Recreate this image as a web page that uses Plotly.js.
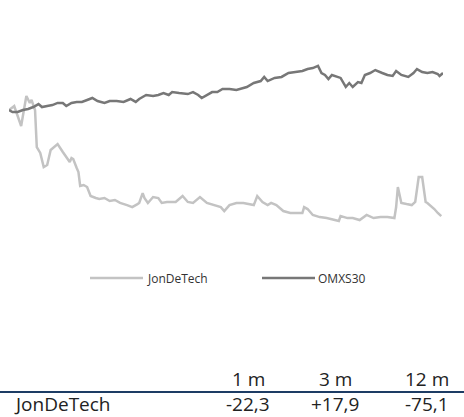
<!DOCTYPE html>
<html>
<head>
<meta charset="utf-8">
<script src="https://cdn.plot.ly/plotly-3.0.1.min.js"></script>
<style>
html,body{margin:0;padding:0;background:#fff;}
#chart{width:464px;height:417px;}
</style>
</head>
<body>
<div id="chart"></div>
<script>
// ---- data (indexed to 100 at start, x = trading day) ----
var seriesNames = ['JonDeTech', 'OMXS30'];

var jonDay = [0,3,7,10,12,13,14,15,16,18,20,22,24,28,31,33,35,36,37,39,40,41,43,45,47,50,52,55,58,61,64,68,71,74,75,77,78,80,83,86,88,91,96,100,103,106,110,114,118,122,124,127,131,135,141,143,146,149,151,154,158,162,166,169,170,172,175,179,183,187,190,191,195,198,202,206,210,214,218,222,223,224,226,229,232,234,236,238,240,241,244,245,247,249];
var jonValue = [100.0,102.8,88.7,109.9,105.0,107.1,103.5,100.0,73.8,69.6,59.6,61.1,71.7,75.9,70.3,66.7,63.2,66.0,65.3,58.9,56.1,46.2,46.9,45.5,39.1,37.7,37.0,37.7,35.6,36.3,34.2,32.7,31.3,33.4,34.2,41.2,37.7,34.2,38.4,37.7,34.2,34.9,34.9,39.1,34.9,34.2,38.4,34.2,32.7,31.3,28.5,32.7,34.2,34.2,32.7,39.1,34.9,32.7,34.2,32.7,28.5,27.1,27.1,27.1,31.3,29.9,25.7,24.2,23.5,22.1,21.4,24.9,23.5,23.5,22.1,25.7,23.5,24.2,24.2,23.5,31.3,45.5,34.2,33.4,32.7,34.9,52.6,52.6,34.9,34.2,31.3,29.9,27.1,24.9];

var omxDay = [0,2,5,8,11,14,17,19,22,25,28,31,33,36,39,42,45,48,51,55,58,62,66,70,73,75,79,83,86,89,92,94,98,103,106,109,111,114,117,120,123,127,131,137,141,145,147,149,153,157,161,165,169,172,175,178,180,182,184,186,189,191,194,196,198,201,203,205,208,211,215,218,221,223,226,230,233,235,238,241,244,247,248,250];
var omxValue = [100.0,98.6,98.6,100.0,100.7,102.1,104.2,102.1,102.8,103.5,105.0,105.0,102.8,105.0,105.7,105.7,107.1,108.5,106.4,105.0,106.4,106.4,105.7,107.8,105.7,107.8,110.6,109.9,110.6,112.0,110.6,112.7,112.0,111.3,112.7,110.6,108.5,110.6,112.7,112.7,114.9,114.9,114.2,116.3,119.1,120.5,123.4,120.5,122.7,123.4,126.2,126.9,127.6,129.0,129.7,131.2,126.2,124.8,121.9,124.8,123.4,122.7,116.3,119.1,116.3,119.8,119.1,124.8,126.2,128.3,126.2,124.8,124.1,127.6,124.8,123.4,126.2,129.0,126.9,126.2,126.9,125.5,124.1,126.2];

// ---- table ----
var periods = ['1 m', '3 m', '12 m'];
var rowLabel = 'JonDeTech';
var jonReturns = ['-22,3', '+17,9', '-75,1'];

// ---- styles ----
var colors = ['#c3c3c3', '#777777'];
var W = 464, H = 417;
var mL = 9, mR = 21, mT = 60, mB = 192;
var pw = W - mL - mR, ph = H - mT - mB;
function px(x){ return (x - mL) / pw; }
function py(y){ return (H - mB - y) / ph; }

var traces = [
  {x: jonDay, y: jonValue, name: seriesNames[0], type: 'scatter', mode: 'lines',
   line: {color: colors[0], width: 2.5}, hoverinfo: 'skip'},
  {x: omxDay, y: omxValue, name: seriesNames[1], type: 'scatter', mode: 'lines',
   line: {color: colors[1], width: 2.5}, hoverinfo: 'skip'}
];

var shapes = [];
var annotations = [];

// legend (drawn manually for long line samples)
var legX = [[90, 143, 145], [262, 315, 316]];
seriesNames.forEach(function(n, i){
  shapes.push({type: 'line', xref: 'paper', yref: 'paper',
    x0: px(legX[i][0]), x1: px(legX[i][1]), y0: py(278), y1: py(278),
    line: {color: colors[i], width: 2.5}});
  annotations.push({xref: 'paper', yref: 'paper', x: px(legX[i][2]), y: py(278),
    xanchor: 'left', yanchor: 'middle', showarrow: false, text: n,
    font: {family: 'Open Sans, sans-serif', size: 12, color: '#333'}});
});

// table
var colCenters = [248, 335, 427];
var tFont = {family: 'Open Sans, sans-serif', size: 19, color: '#222'};
shapes.push({type: 'line', xref: 'paper', yref: 'paper',
  x0: px(0), x1: px(W), y0: py(392), y1: py(392),
  line: {color: '#1d3c64', width: 2}});
periods.forEach(function(p, i){
  annotations.push({xref: 'paper', yref: 'paper', x: px(colCenters[i]), y: py(379),
    xanchor: 'center', yanchor: 'middle', showarrow: false, text: p, font: tFont});
  annotations.push({xref: 'paper', yref: 'paper', x: px(colCenters[i]), y: py(404),
    xanchor: 'center', yanchor: 'middle', showarrow: false, text: jonReturns[i], font: tFont});
});
annotations.push({xref: 'paper', yref: 'paper', x: px(12), y: py(404),
  xanchor: 'left', yanchor: 'middle', showarrow: false, text: rowLabel, font: tFont});

var layout = {
  width: W, height: H,
  margin: {l: mL, r: mR, t: mT, b: mB, pad: 0},
  paper_bgcolor: '#fff', plot_bgcolor: '#fff',
  showlegend: false,
  xaxis: {range: [0, 250], visible: false, fixedrange: true},
  yaxis: {range: [18.6, 135.4], visible: false, fixedrange: true},
  shapes: shapes,
  annotations: annotations
};

Plotly.newPlot('chart', traces, layout, {displayModeBar: false, staticPlot: true});
</script>
</body>
</html>
